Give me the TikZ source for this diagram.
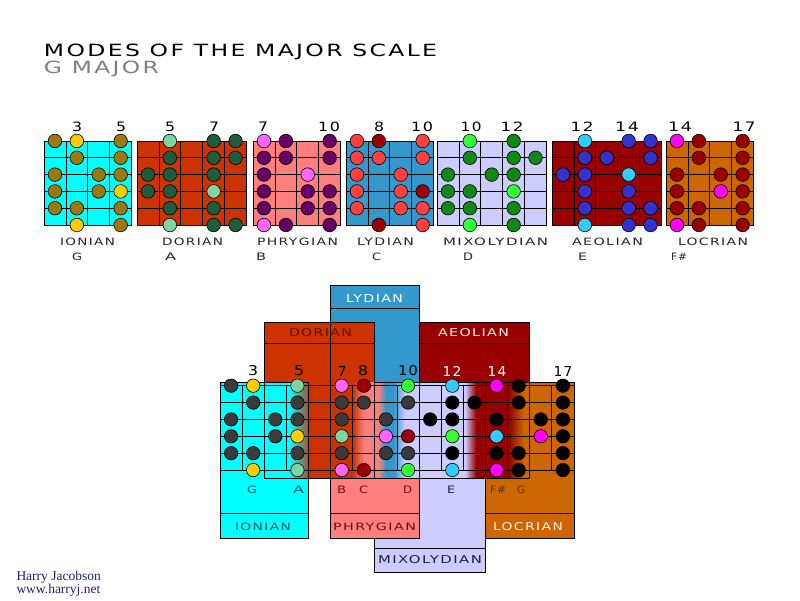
\documentclass[tikz,border=0pt]{standalone}
\usepackage{fontspec}
\usepackage{graphicx}
\newfontfamily\wfont[LetterSpace=10]{DejaVu Sans}
\newfontfamily\footfont{Liberation Serif}
\definecolor{ion}{HTML}{00FFFF}
\definecolor{dor}{HTML}{CC3300}
\definecolor{phr}{HTML}{FF7F7F}
\definecolor{lyd}{HTML}{3399CC}
\definecolor{mix}{HTML}{CCCCFF}
\definecolor{aeo}{HTML}{990000}
\definecolor{loc}{HTML}{CC6600}
\definecolor{olive}{HTML}{9A7A10}
\definecolor{gold}{HTML}{FFCC00}
\definecolor{dgreen}{HTML}{1F5C3D}
\definecolor{lgreen}{HTML}{7FD4A0}
\definecolor{purp}{HTML}{660066}
\definecolor{pinkr}{HTML}{FF66FF}
\definecolor{tomato}{HTML}{FF4040}
\definecolor{dred}{HTML}{990000}
\definecolor{mgreen}{HTML}{118811}
\definecolor{bgreen}{HTML}{33FF33}
\definecolor{blu}{HTML}{3333CC}
\definecolor{cyr}{HTML}{33CCFF}
\definecolor{mag}{HTML}{FF00FF}
\definecolor{dgray}{HTML}{3A3A3A}
\definecolor{teal2}{HTML}{0E5C5C}
\definecolor{brn}{HTML}{661111}
\definecolor{navy2}{HTML}{1E1E4A}
\definecolor{footc}{HTML}{222266}
\newcommand\fitt[3]{\resizebox{#1pt}{#2pt}{\wfont #3}}
\newcommand\topbox[7]{%
  \fill[#3] (#1,141) rectangle ({#1+#2*21.9},225);
  \foreach \j in {0,...,5} \draw[grid] (#1,{141+\j*16.8}) -- ({#1+#2*21.9},{141+\j*16.8});
  \foreach \k in {0,...,#2} \draw[grid] ({#1+\k*21.9},141) -- ({#1+\k*21.9},225);
  \foreach \c/\r in {#6} \filldraw[dotst, fill=#4] ({#1+(\c-0.5)*21.9},{141+(\r-1)*16.8}) circle[radius=6.8];
  \foreach \c/\r in {#7} \filldraw[dotst, fill=#5] ({#1+(\c-0.5)*21.9},{141+(\r-1)*16.8}) circle[radius=6.8];
}
\newcommand\compdots[2]{%
  \foreach \f/\r in {#2} \filldraw[dotst, fill=#1] ({231.06+(\f-2)*22.125},{385.7+(\r-1)*16.86}) circle[radius=6.7];
}
\begin{document}
\begin{tikzpicture}[x=1pt,y=-1pt,
  grid/.style={black, line width=0.8pt},
  dotst/.style={draw=black, line width=0.6pt},
  txt/.style={inner sep=0pt, outer sep=0pt}]
\useasboundingbox[fill=white] (0,0) rectangle (800,600);

% ---------- title
\node[txt, text=black] (title) at (240.5,52) {\fitt{393}{12.5}{MODES OF THE MAJOR SCALE}};
\node[txt, text=black!50] (sub) at (101.5,68.5) {\fitt{115}{12.5}{G MAJOR}};

% ---------- top row
\topbox{44}{4}{ion}{olive}{gold}{1/1,4/1,2/2,4/2,1/3,3/3,4/3,1/4,3/4,1/5,2/5,4/5,4/6}{2/1,4/4,2/6}
\topbox{137}{5}{dor}{dgreen}{lgreen}{4/1,5/1,2/2,4/2,5/2,1/3,2/3,4/3,1/4,2/4,2/5,4/5,4/6,5/6}{2/1,4/4,2/6}
\topbox{253}{4}{phr}{purp}{pinkr}{2/1,4/1,1/2,2/2,4/2,1/3,1/4,3/4,4/4,1/5,3/5,4/5,2/6,4/6}{1/1,3/3,1/6}
\topbox{346}{4}{lyd}{tomato}{dred}{1/1,4/1,1/2,2/2,4/2,1/3,3/3,1/4,3/4,1/5,3/5,4/5,4/6}{2/1,4/4,2/6}
\topbox{437}{5}{mix}{mgreen}{bgreen}{4/1,2/2,4/2,5/2,1/3,3/3,4/3,1/4,2/4,1/5,2/5,4/5,4/6}{2/1,4/4,2/6}
\topbox{552}{5}{aeo}{blu}{cyr}{4/1,5/1,2/2,3/2,5/2,1/3,2/3,2/4,4/4,2/5,4/5,5/5,4/6,5/6}{2/1,4/3,2/6}
\topbox{666}{4}{loc}{dred}{mag}{2/1,4/1,2/2,4/2,1/3,3/3,4/3,1/4,4/4,1/5,2/5,4/5,2/6,4/6}{1/1,3/4,1/6}

% top numbers
\foreach \x/\w/\t [count=\i] in {77/10/3,121/10/5,170/10/5,214/10/7,263/10/7,329/22/10,379/10/8,422/22/10,471/21/10,512/23/12,582/23/12,627/24/14,680/24/14,744/23/17}
  \node[txt] (tn\i) at (\x,126.5) {\fitt{\w}{9.5}{\t}};

% top labels
\foreach \x/\w/\t [count=\i] in {87.5/55/IONIAN,192.5/61/DORIAN,297.5/81/PHRYGIAN,385.5/57/LYDIAN,495.5/105/MIXOLYDIAN,607.5/71/AEOLIAN,713/70/LOCRIAN}
  \node[txt, text=black!85] (tl\i) at (\x,241.5) {\fitt{\w}{7.5}{\t}};
\foreach \x/\w/\t [count=\i] in {77/10/G,170.5/11/A,261/10/B,376.5/9/C,468/10/D,582.5/9/E,679/16/F\#}
  \node[txt, text=black!85] (tk\i) at (\x,256.5) {\fitt{\w}{7.5}{\t}};

% ---------- composite
\fill[lyd] (330.625,285) rectangle (419.125,478);
\fill[dor] (264.25,322) rectangle (374.875,478);
\fill[aeo] (419.125,322) rectangle (529.75,478);
\draw[grid] (330.625,285) rectangle (419.125,478) (330.625,308) -- (419.125,308);
\draw[grid] (264.25,322) rectangle (374.875,478) (264.25,343) -- (374.875,343);
\draw[grid] (419.125,322) rectangle (529.75,478) (419.125,343) -- (529.75,343);
\filldraw[grid, fill=mix] (374.875,382) rectangle (485.5,572);
\draw[grid] (374.875,548) -- (485.5,548);
\filldraw[grid, fill=phr] (330.625,382) rectangle (419.125,538);
\draw[grid] (330.625,513) -- (419.125,513);
\filldraw[grid, fill=loc] (485.5,382) rectangle (574,538);
\draw[grid] (485.5,513) -- (574,513);
\filldraw[grid, fill=ion] (220,382) rectangle (308.5,538);
\draw[grid] (220,513) -- (308.5,513);

% blended fret zone
\shade[left color=ion, right color={rgb,255:red,168;green,80;blue,44}] (289,382) rectangle (308.5,478);
\fill[dor] (308.5,382) rectangle (353,478);
\shade[left color=dor, middle color={rgb,255:red,178;green,30;blue,24}, right color=phr] (352.75,382) rectangle (364,478);
\fill[phr] (364,382) rectangle (378,478);
\shade[left color=phr, middle color={rgb,255:red,242;green,230;blue,240}, right color=lyd] (378,382) rectangle (386,478);
\fill[lyd] (386,382) rectangle (394,478);
\shade[left color=lyd, middle color={rgb,255:red,228;green,236;blue,250}, right color=mix] (394,382) rectangle (405,478);
\fill[mix] (405,382) rectangle (465,478);
\shade[left color=mix, right color=aeo] (465,382) rectangle (476,478);
\fill[aeo] (476,382) rectangle (508,478);
\shade[left color={rgb,255:red,136;green,0;blue,0}, right color=loc] (508,382) rectangle (524,478);
\fill[loc] (524,382) rectangle (529.75,478);
\fill[dor] (330.625,376) rectangle (352.75,382.4);

% lines of the fret zone
\draw[grid] (220,382) -- (308.5,382) (374.875,382) -- (574,382);
\draw[grid] (264.25,382) -- (264.25,478) -- (529.75,478);
\foreach \k in {308.5,374.875,419.125,485.5,529.75} \draw[grid] (\k,382) -- (\k,478);
\draw[grid] (330.625,343) -- (330.625,478);
\foreach \k in {0,...,16} \draw[grid] ({220+\k*22.125},385.7) -- ({220+\k*22.125},470.5);
\foreach \j in {0,...,5} \draw[grid] (220,{385.7+\j*16.86}) -- (574,{385.7+\j*16.86});

% dots
\compdots{dgray}{2/1,3/2,5/2,7/2,8/2,10/2,2/3,4/3,5/3,7/3,9/3,2/4,4/4,2/5,3/5,5/5,7/5,9/5,10/5}
\compdots{black}{15/1,17/1,12/2,13/2,15/2,17/2,11/3,12/3,14/3,16/3,17/3,17/4,12/5,14/5,15/5,17/5,15/6,17/6}
\compdots{gold}{3/1,5/4,3/6}
\compdots{lgreen}{5/1,7/4,5/6}
\compdots{pinkr}{7/1,9/4,7/6}
\compdots{dred}{8/1,10/4,8/6}
\compdots{bgreen}{10/1,12/4,10/6}
\compdots{cyr}{12/1,14/4,12/6}
\compdots{mag}{14/1,16/4,14/6}

% composite numbers
\foreach \x/\w/\t/\c [count=\i] in {253/10/3/black,299/10/5/black,342/9/7/black,363/10/8/black,408/20/10/black,452/19/12/white,497/19/14/white,563/19/17/black}
  \node[txt, text=\c] (cn\i) at (\x,371) {\fitt{\w}{10}{\t}};

% composite headers and labels
\node[txt, text={rgb,255:red,102;green,17;blue,0}] (hdor) at (320.5,333) {\fitt{63}{8}{DORIAN}};
\node[txt, text=white] (hlyd) at (374.5,298) {\fitt{57}{8}{LYDIAN}};
\node[txt, text={rgb,255:red,255;green,238;blue,238}] (haeo) at (473.5,333) {\fitt{71}{8}{AEOLIAN}};
\node[txt, text=teal2] (hion) at (263,526.5) {\fitt{56}{7.5}{IONIAN}};
\node[txt, text=brn] (hphr) at (374.5,526.5) {\fitt{83}{7.5}{PHRYGIAN}};
\node[txt, text={rgb,255:red,255;green,240;blue,224}] (hloc) at (528,527) {\fitt{70}{8}{LOCRIAN}};
\node[txt, text=navy2] (hmix) at (430,560) {\fitt{104}{8}{MIXOLYDIAN}};

% composite note letters
\foreach \x/\w/\t/\c [count=\i] in {252/10/G/teal2,298.5/11/A/teal2,341.5/9/B/brn,363.5/9/C/brn,407.5/9/D/brn,451/8/E/navy2,498/16/F\#/{rgb,255:red,102;green,51;blue,0},521/8/G/{rgb,255:red,102;green,51;blue,0}}
  \node[txt, text=\c] (cl\i) at (\x,489.5) {\fitt{\w}{7.5}{\t}};

% footer
\node[txt, anchor=base west, text=footc, font=\footfont\fontsize{13.5}{15}\selectfont] (f1) at (16.5,580) {Harry Jacobson};
\node[txt, anchor=base west, text=footc, font=\footfont\fontsize{13.5}{15}\selectfont] (f2) at (16.5,593) {www.harryj.net};
\end{tikzpicture}
\end{document}
